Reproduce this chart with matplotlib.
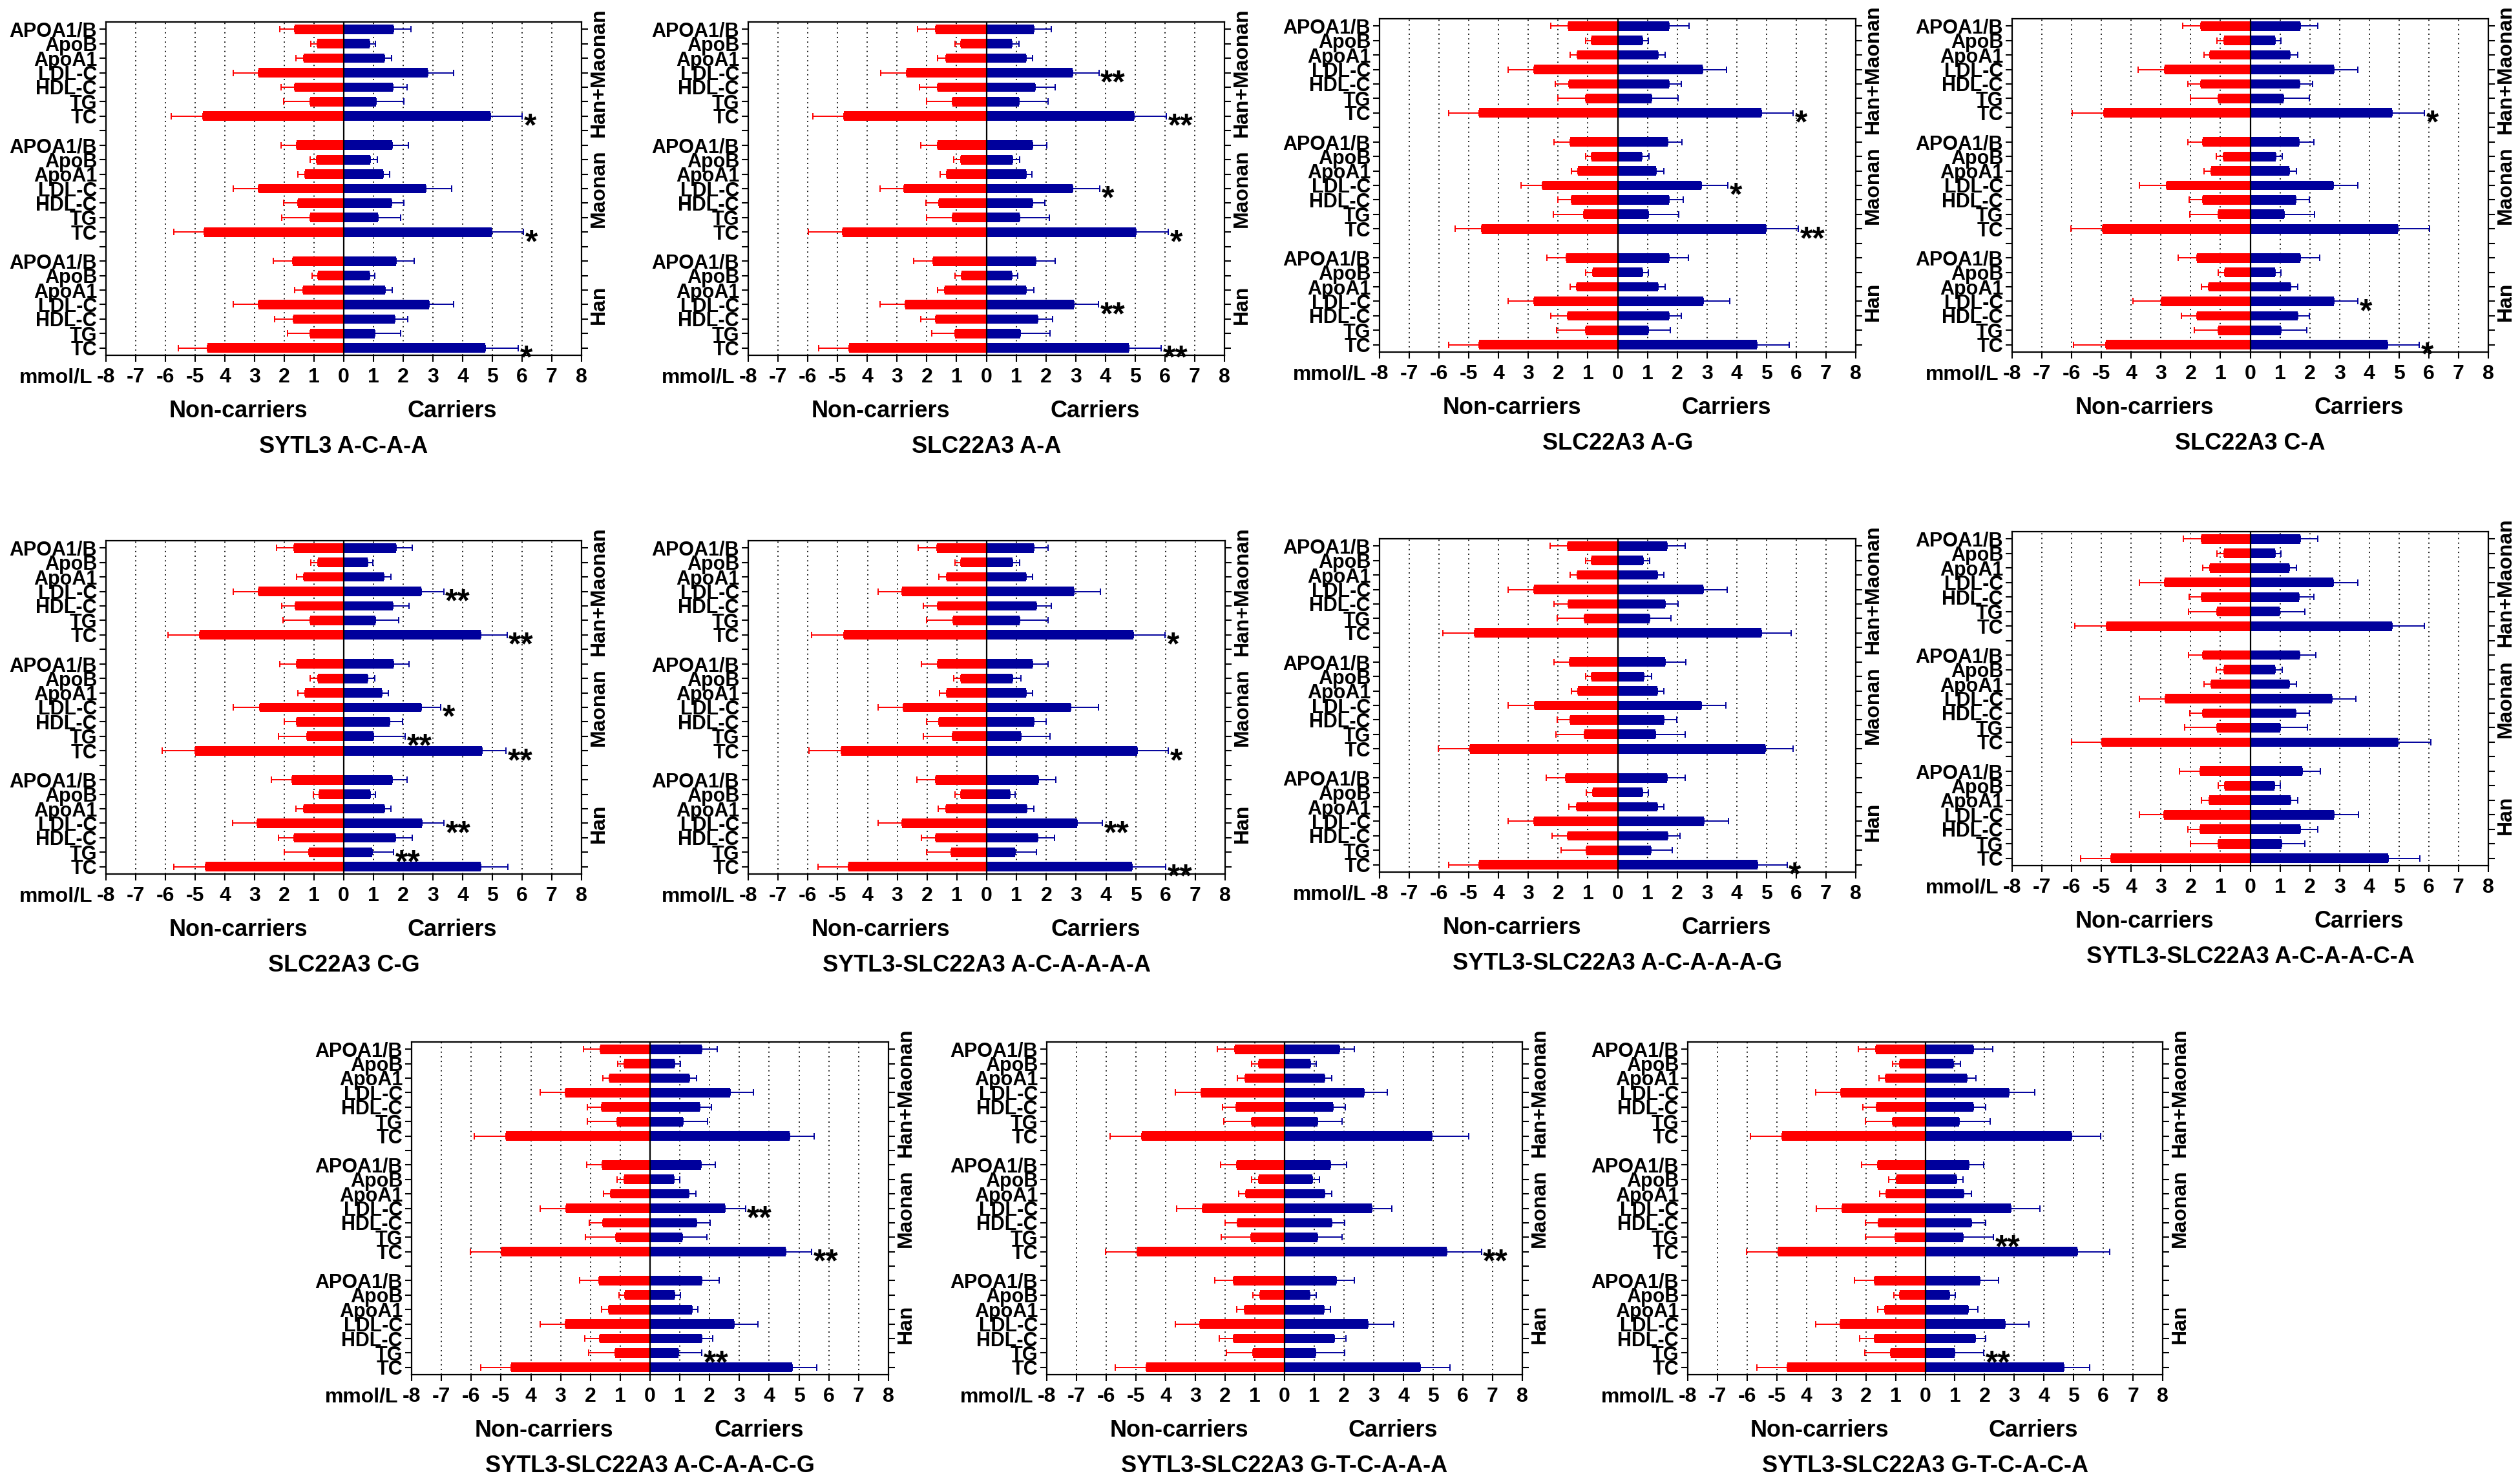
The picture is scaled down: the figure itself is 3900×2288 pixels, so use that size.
import matplotlib
matplotlib.use('Agg')
import matplotlib.pyplot as plt
import numpy as np

plt.rcParams['font.family'] = ['Liberation Sans', 'DejaVu Sans']
plt.rcParams['font.weight'] = 'bold'

metrics = ['APOA1/B', 'ApoB', 'ApoA1', 'LDL-C', 'HDL-C', 'TG', 'TC']
groups = ['Han+Maonan', 'Maonan', 'Han']
x_ticks = list(range(-8, 9))
x_tick_labels = ['-8', '-7', '-6', '-5', '4', '3', '2', '1', '0',
                 '1', '2', '3', '4', '5', '6', '7', '8']

# order in every list: Han+Maonan, Maonan, Han; each APOA1/B .. TC (top to bottom)
# SYTL3 A-C-A-A
p1_non = [1.65, 0.89, 1.35, 2.87, 1.65, 1.12, 4.74,
          1.58, 0.92, 1.30, 2.86, 1.55, 1.14, 4.70,
          1.72, 0.86, 1.37, 2.87, 1.69, 1.12, 4.58]
p1_non_sd = [0.51, 0.21, 0.26, 0.85, 0.46, 0.90, 1.07,
             0.53, 0.22, 0.25, 0.86, 0.47, 0.94, 1.01,
             0.64, 0.21, 0.28, 0.85, 0.64, 0.78, 0.98]
p1_car = [1.68, 0.87, 1.36, 2.82, 1.65, 1.08, 4.94,
          1.64, 0.90, 1.33, 2.75, 1.60, 1.15, 4.97,
          1.75, 0.87, 1.39, 2.86, 1.72, 1.05, 4.77]
p1_car_sd = [0.59, 0.20, 0.25, 0.87, 0.47, 0.94, 1.07,
             0.54, 0.24, 0.22, 0.87, 0.42, 0.76, 1.08,
             0.62, 0.18, 0.25, 0.83, 0.44, 0.86, 1.11]
p1_sig = ['', '', '', '', '', '', '*',
          '', '', '', '', '', '', '*',
          '', '', '', '', '', '', '*']

# SLC22A3 A-A
p2_non = [1.70, 0.86, 1.36, 2.68, 1.63, 1.13, 4.79,
          1.63, 0.86, 1.33, 2.76, 1.59, 1.13, 4.83,
          1.79, 0.84, 1.39, 2.72, 1.70, 1.05, 4.62]
p2_non_sd = [0.61, 0.20, 0.27, 0.87, 0.61, 0.88, 1.03,
             0.57, 0.23, 0.23, 0.82, 0.45, 0.88, 1.15,
             0.66, 0.22, 0.24, 0.86, 0.50, 0.79, 1.02]
p2_car = [1.60, 0.86, 1.33, 2.90, 1.63, 1.09, 4.96,
          1.56, 0.88, 1.33, 2.90, 1.56, 1.11, 5.03,
          1.66, 0.86, 1.33, 2.95, 1.73, 1.13, 4.79]
p2_car_sd = [0.58, 0.23, 0.23, 0.88, 0.68, 0.98, 1.09,
             0.48, 0.23, 0.21, 0.91, 0.41, 1.00, 1.09,
             0.65, 0.20, 0.26, 0.82, 0.49, 1.00, 1.08]
p2_sig = ['', '', '', '**', '', '', '**',
          '', '', '', '*', '', '', '*',
          '', '', '', '**', '', '', '**']

# SLC22A3 A-G
p3_non = [1.65, 0.87, 1.36, 2.82, 1.63, 1.08, 4.65,
          1.60, 0.87, 1.33, 2.54, 1.56, 1.14, 4.57,
          1.72, 0.84, 1.38, 2.82, 1.69, 1.08, 4.65]
p3_non_sd = [0.59, 0.21, 0.24, 0.87, 0.47, 0.93, 1.02,
             0.54, 0.21, 0.23, 0.71, 0.45, 1.03, 0.88,
             0.65, 0.24, 0.22, 0.87, 0.55, 0.98, 1.02]
p3_car = [1.72, 0.84, 1.36, 2.85, 1.72, 1.15, 4.84,
          1.69, 0.81, 1.29, 2.82, 1.72, 1.04, 4.99,
          1.72, 0.84, 1.36, 2.87, 1.72, 1.04, 4.68]
p3_car_sd = [0.68, 0.20, 0.24, 0.81, 0.41, 0.88, 1.06,
             0.48, 0.25, 0.27, 0.88, 0.48, 1.02, 1.08,
             0.65, 0.20, 0.23, 0.89, 0.41, 0.72, 1.08]
p3_sig = ['', '', '', '', '', '', '*',
          '', '', '', '*', '', '', '**',
          '', '', '', '', '', '', '']

# SLC22A3 C-A
p4_non = [1.65, 0.88, 1.36, 2.87, 1.67, 1.08, 4.91,
          1.60, 0.91, 1.32, 2.82, 1.60, 1.08, 4.95,
          1.79, 0.85, 1.40, 2.98, 1.80, 1.08, 4.85]
p4_non_sd = [0.61, 0.23, 0.20, 0.90, 0.43, 0.93, 1.08,
             0.50, 0.22, 0.24, 0.91, 0.46, 0.95, 1.08,
             0.62, 0.23, 0.23, 0.95, 0.51, 0.79, 1.09]
p4_car = [1.69, 0.84, 1.33, 2.81, 1.65, 1.11, 4.77,
          1.63, 0.85, 1.32, 2.78, 1.53, 1.15, 4.95,
          1.69, 0.84, 1.36, 2.81, 1.59, 1.04, 4.61]
p4_car_sd = [0.57, 0.20, 0.26, 0.81, 0.45, 0.88, 1.09,
             0.51, 0.23, 0.24, 0.84, 0.46, 1.02, 1.08,
             0.64, 0.20, 0.24, 0.81, 0.40, 0.86, 1.06]
p4_sig = ['', '', '', '', '', '', '*',
          '', '', '', '', '', '', '',
          '', '', '', '*', '', '', '*']

# SLC22A3 C-G
p5_non = [1.67, 0.87, 1.35, 2.87, 1.64, 1.13, 4.84,
          1.58, 0.87, 1.30, 2.83, 1.58, 1.24, 5.01,
          1.75, 0.83, 1.35, 2.91, 1.68, 1.17, 4.66]
p5_non_sd = [0.59, 0.23, 0.23, 0.85, 0.45, 0.92, 1.08,
             0.57, 0.26, 0.25, 0.88, 0.43, 0.95, 1.09,
             0.68, 0.20, 0.25, 0.83, 0.51, 0.84, 1.06]
p5_car = [1.75, 0.80, 1.35, 2.61, 1.66, 1.07, 4.61,
          1.68, 0.80, 1.28, 2.60, 1.55, 1.01, 4.65,
          1.62, 0.90, 1.37, 2.64, 1.73, 0.96, 4.61]
p5_car_sd = [0.55, 0.18, 0.23, 0.75, 0.53, 0.78, 0.88,
             0.51, 0.25, 0.23, 0.67, 0.43, 1.06, 0.80,
             0.51, 0.17, 0.22, 0.74, 0.57, 0.72, 0.92]
p5_sig = ['', '', '', '**', '', '', '**',
          '', '', '', '*', '', '**', '**',
          '', '', '', '**', '', '**', '']

# SYTL3-SLC22A3 A-C-A-A-A-A
p6_non = [1.68, 0.86, 1.35, 2.83, 1.64, 1.13, 4.80,
          1.64, 0.87, 1.35, 2.80, 1.60, 1.14, 4.88,
          1.71, 0.86, 1.37, 2.83, 1.71, 1.20, 4.63]
p6_non_sd = [0.62, 0.21, 0.25, 0.82, 0.48, 0.88, 1.08,
             0.55, 0.23, 0.23, 0.85, 0.42, 0.98, 1.08,
             0.64, 0.21, 0.25, 0.82, 0.48, 0.82, 1.02]
p6_car = [1.58, 0.87, 1.32, 2.93, 1.66, 1.11, 4.92,
          1.55, 0.87, 1.32, 2.81, 1.59, 1.14, 5.05,
          1.73, 0.77, 1.35, 3.04, 1.71, 0.96, 4.88]
p6_car_sd = [0.49, 0.24, 0.23, 0.89, 0.50, 0.96, 1.07,
             0.50, 0.27, 0.23, 0.94, 0.41, 0.99, 1.05,
             0.59, 0.19, 0.23, 0.85, 0.56, 0.70, 1.13]
p6_sig = ['', '', '', '', '', '', '*',
          '', '', '', '', '', '', '*',
          '', '', '', '**', '', '', '**']

# SYTL3-SLC22A3 A-C-A-A-A-G
p7_non = [1.68, 0.87, 1.36, 2.82, 1.65, 1.11, 4.81,
          1.61, 0.87, 1.33, 2.78, 1.60, 1.11, 4.95,
          1.74, 0.84, 1.38, 2.82, 1.68, 1.06, 4.65]
p7_non_sd = [0.58, 0.21, 0.24, 0.87, 0.48, 0.92, 1.06,
             0.52, 0.21, 0.23, 0.91, 0.43, 0.96, 1.08,
             0.66, 0.22, 0.25, 0.87, 0.53, 0.84, 1.02]
p7_car = [1.65, 0.85, 1.33, 2.87, 1.60, 1.08, 4.84,
          1.60, 0.88, 1.33, 2.81, 1.56, 1.26, 4.95,
          1.67, 0.84, 1.33, 2.89, 1.69, 1.11, 4.71]
p7_car_sd = [0.61, 0.23, 0.23, 0.82, 0.43, 0.71, 0.99,
             0.68, 0.27, 0.23, 0.82, 0.43, 1.00, 0.95,
             0.59, 0.20, 0.23, 0.84, 0.41, 0.72, 0.98]
p7_sig = ['', '', '', '', '', '', '',
          '', '', '', '', '', '', '',
          '', '', '', '', '', '', '*']

# SYTL3-SLC22A3 A-C-A-A-C-A
p8_non = [1.63, 0.88, 1.36, 2.87, 1.63, 1.11, 4.84,
          1.59, 0.88, 1.32, 2.85, 1.59, 1.11, 4.98,
          1.69, 0.85, 1.38, 2.90, 1.69, 1.08, 4.68]
p8_non_sd = [0.61, 0.23, 0.23, 0.86, 0.43, 0.96, 1.06,
             0.48, 0.25, 0.24, 0.88, 0.44, 1.09, 1.03,
             0.68, 0.23, 0.25, 0.83, 0.41, 0.93, 1.01]
p8_car = [1.69, 0.84, 1.32, 2.78, 1.63, 0.98, 4.77,
          1.65, 0.84, 1.32, 2.74, 1.53, 1.02, 4.95,
          1.74, 0.81, 1.36, 2.81, 1.69, 1.06, 4.64]
p8_car_sd = [0.57, 0.20, 0.24, 0.84, 0.50, 0.85, 1.09,
             0.56, 0.24, 0.24, 0.81, 0.46, 0.91, 1.11,
             0.61, 0.21, 0.23, 0.82, 0.57, 0.77, 1.05]
p8_sig = [''] * 21

# SYTL3-SLC22A3 A-C-A-A-C-G
p9_non = [1.68, 0.87, 1.36, 2.83, 1.63, 1.11, 4.83,
          1.61, 0.87, 1.32, 2.81, 1.59, 1.14, 4.98,
          1.72, 0.84, 1.38, 2.85, 1.69, 1.18, 4.66]
p9_non_sd = [0.56, 0.21, 0.23, 0.86, 0.47, 0.99, 1.07,
             0.52, 0.24, 0.24, 0.88, 0.44, 1.02, 1.05,
             0.65, 0.20, 0.25, 0.84, 0.51, 0.88, 1.03]
p9_car = [1.74, 0.83, 1.33, 2.68, 1.67, 1.10, 4.68,
          1.71, 0.81, 1.30, 2.52, 1.57, 1.08, 4.56,
          1.74, 0.83, 1.40, 2.82, 1.74, 0.96, 4.76]
p9_car_sd = [0.51, 0.19, 0.24, 0.78, 0.40, 0.84, 0.83,
             0.47, 0.18, 0.23, 0.68, 0.44, 0.83, 0.86,
             0.58, 0.19, 0.20, 0.81, 0.36, 0.78, 0.84]
p9_sig = ['', '', '', '', '', '', '',
          '', '', '', '**', '', '', '**',
          '', '', '', '', '', '**', '']

# SYTL3-SLC22A3 G-T-C-A-A-A
p10_non = [1.67, 0.87, 1.33, 2.80, 1.64, 1.10, 4.80,
           1.60, 0.87, 1.30, 2.77, 1.58, 1.13, 4.95,
           1.71, 0.83, 1.35, 2.84, 1.71, 1.06, 4.66]
p10_non_sd = [0.59, 0.23, 0.25, 0.88, 0.45, 0.95, 1.08,
              0.55, 0.23, 0.24, 0.87, 0.43, 0.99, 1.07,
              0.64, 0.23, 0.25, 0.84, 0.48, 0.90, 1.03]
p10_car = [1.85, 0.87, 1.35, 2.68, 1.62, 1.11, 4.95,
           1.55, 0.94, 1.35, 2.93, 1.59, 1.10, 5.46,
           1.73, 0.84, 1.32, 2.81, 1.68, 1.05, 4.57]
p10_car_sd = [0.49, 0.20, 0.24, 0.77, 0.43, 0.82, 1.25,
              0.54, 0.24, 0.24, 0.68, 0.43, 0.83, 1.16,
              0.61, 0.23, 0.23, 0.87, 0.39, 0.97, 0.99]
p10_sig = ['', '', '', '', '', '', '',
           '', '', '', '', '', '', '**',
           '', '', '', '', '', '', '']

# SYTL3-SLC22A3 G-T-C-A-C-A
p11_non = [1.67, 0.86, 1.33, 2.83, 1.64, 1.10, 4.83,
           1.60, 0.97, 1.31, 2.80, 1.58, 1.02, 4.96,
           1.71, 0.86, 1.36, 2.87, 1.70, 1.16, 4.64]
p11_non_sd = [0.59, 0.24, 0.23, 0.85, 0.47, 0.91, 1.06,
              0.55, 0.25, 0.23, 0.87, 0.43, 0.99, 1.06,
              0.67, 0.20, 0.24, 0.81, 0.52, 0.88, 1.04]
p11_car = [1.63, 0.94, 1.41, 2.81, 1.62, 1.14, 4.92,
           1.48, 1.05, 1.29, 2.88, 1.56, 1.28, 5.12,
           1.84, 0.82, 1.45, 2.68, 1.69, 0.98, 4.68]
p11_car_sd = [0.64, 0.24, 0.29, 0.89, 0.42, 1.04, 0.98,
              0.49, 0.23, 0.27, 0.98, 0.47, 1.02, 1.09,
              0.63, 0.20, 0.32, 0.81, 0.35, 0.99, 0.85]
p11_sig = ['', '', '', '', '', '', '',
           '', '', '', '', '', '**', '',
           '', '', '', '', '', '**', '']

titles = ['SYTL3 A-C-A-A', 'SLC22A3 A-A', 'SLC22A3 A-G', 'SLC22A3 C-A',
          'SLC22A3 C-G', 'SYTL3-SLC22A3 A-C-A-A-A-A', 'SYTL3-SLC22A3 A-C-A-A-A-G',
          'SYTL3-SLC22A3 A-C-A-A-C-A', 'SYTL3-SLC22A3 A-C-A-A-C-G',
          'SYTL3-SLC22A3 G-T-C-A-A-A', 'SYTL3-SLC22A3 G-T-C-A-C-A']

W, H = 3900, 2288
# axes boxes in pixels: left, top, right, bottom
boxes = [(164, 34, 900, 550), (1158, 34, 1895, 550), (2135, 29, 2872, 545),
         (3114, 29, 3851, 545), (164, 837, 900, 1353), (1158, 837, 1896, 1353),
         (2135, 834, 2872, 1350), (3114, 823, 3851, 1340), (637, 1613, 1375, 2128),
         (1620, 1613, 2356, 2128), (2612, 1613, 3347, 2128)]

panels = [
    (p1_non, p1_non_sd, p1_car, p1_car_sd, p1_sig),
    (p2_non, p2_non_sd, p2_car, p2_car_sd, p2_sig),
    (p3_non, p3_non_sd, p3_car, p3_car_sd, p3_sig),
    (p4_non, p4_non_sd, p4_car, p4_car_sd, p4_sig),
    (p5_non, p5_non_sd, p5_car, p5_car_sd, p5_sig),
    (p6_non, p6_non_sd, p6_car, p6_car_sd, p6_sig),
    (p7_non, p7_non_sd, p7_car, p7_car_sd, p7_sig),
    (p8_non, p8_non_sd, p8_car, p8_car_sd, p8_sig),
    (p9_non, p9_non_sd, p9_car, p9_car_sd, p9_sig),
    (p10_non, p10_non_sd, p10_car, p10_car_sd, p10_sig),
    (p11_non, p11_non_sd, p11_car, p11_car_sd, p11_sig),
]

RED = '#FF0000'
BLUE = '#00009C'

# y slot of each bar: 3 groups of 7 with one empty slot between groups
pos = np.array([22 - (g * 8 + i) for g in range(3) for i in range(7)])
slot_labels = [''] * 23
for g in range(3):
    for i, m in enumerate(metrics):
        slot_labels[22 - (g * 8 + i)] = m

fig = plt.figure(figsize=(W / 100, H / 100), dpi=100)

for (non, non_sd, car, car_sd, sig), title, (l, t, r, b) in zip(panels, titles, boxes):
    ax = fig.add_axes([l / W, 1 - b / H, (r - l) / W, (b - t) / H])
    non = np.array(non)
    car = np.array(car)
    zeros = np.zeros(len(non))

    for v in x_ticks[1:-1]:
        if v != 0:
            ax.axvline(v, color='black', lw=1.3, ls=(0, (1, 3)), zorder=0)

    ax.barh(pos, -non, height=0.66, color=RED, zorder=2)
    ax.barh(pos, car, height=0.66, color=BLUE, zorder=2)
    ax.errorbar(-non, pos, xerr=[non_sd, zeros], fmt='none', ecolor=RED,
                elinewidth=1.4, capsize=3.4, capthick=1.4, zorder=3)
    ax.errorbar(car, pos, xerr=[zeros, car_sd], fmt='none', ecolor=BLUE,
                elinewidth=1.4, capsize=3.4, capthick=1.4, zorder=3)
    ax.axvline(0, color='black', lw=1.6, zorder=4)

    for y, c, s, mark in zip(pos, car, car_sd, sig):
        if mark:
            ax.annotate(mark, xy=(c + s, y), xytext=(2, -22), textcoords='offset points',
                        ha='left', va='baseline', fontsize=36, fontweight='bold')

    ax.set_xlim(-8, 8)
    ax.set_ylim(-0.5, 22.5)
    ax.set_xticks(x_ticks)
    ax.set_xticklabels(x_tick_labels)
    ax.set_yticks(range(23))
    ax.set_yticklabels(slot_labels)
    ax.tick_params(axis='x', labelsize=23, length=7, width=1.5, pad=7)
    ax.tick_params(axis='y', labelsize=22, length=7, width=1.5, pad=3,
                   right=True, direction='out')
    for sp in ax.spines.values():
        sp.set_linewidth(1.6)

    for g, name in enumerate(groups):
        ax.annotate(name, xy=(1, 19 - g * 8), xycoords=('axes fraction', 'data'),
                    xytext=(19, 0), textcoords='offset points', rotation=90,
                    ha='center', va='center', fontsize=23, fontweight='bold')

    ax.annotate('mmol/L', xy=(-8, 0), xycoords=('data', 'axes fraction'),
                xytext=(-15, -14), textcoords='offset points',
                ha='right', va='top', fontsize=23, fontweight='bold')
    ax.annotate('Non-carriers', xy=(-3.55, 0), xycoords=('data', 'axes fraction'),
                xytext=(0, -62), textcoords='offset points',
                ha='center', va='center', fontsize=26, fontweight='bold')
    ax.annotate('Carriers', xy=(3.65, 0), xycoords=('data', 'axes fraction'),
                xytext=(0, -62), textcoords='offset points',
                ha='center', va='center', fontsize=26, fontweight='bold')
    ax.annotate(title, xy=(0, 0), xycoords=('data', 'axes fraction'),
                xytext=(0, -102), textcoords='offset points',
                ha='center', va='center', fontsize=26, fontweight='bold')

fig.savefig('out.png', dpi=100)
